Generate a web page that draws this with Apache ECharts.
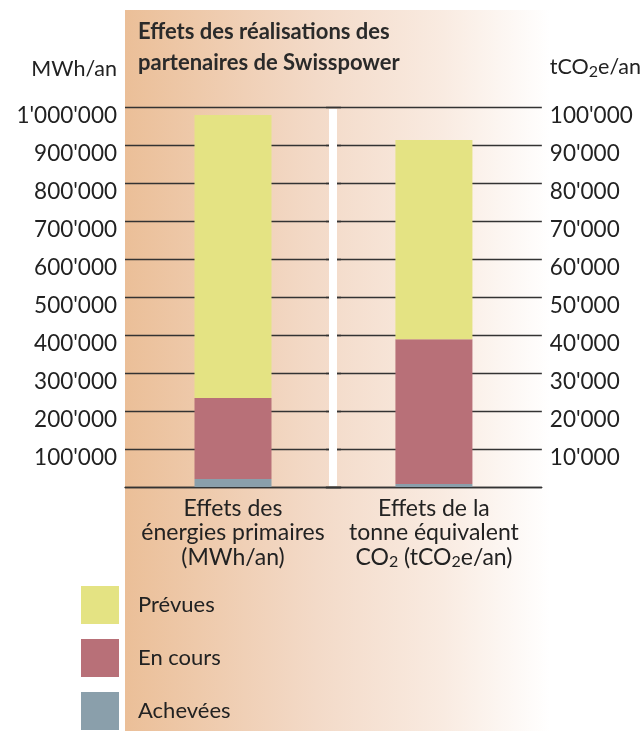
<!DOCTYPE html>
<html>
<head>
<meta charset="utf-8">
<script src="https://cdn.jsdelivr.net/npm/echarts@6/dist/echarts.min.js"></script>
<style>
  html, body { margin: 0; padding: 0; background: #fff; }
  #chart { width: 642px; height: 731px; }
</style>
</head>
<body>
<div id="chart"></div>
<script>
// categories (one per bar, each bar has its own axis)
var catLeft = ['Effets des\nénergies primaires\n(MWh/an)'];
var catRight = ['Effets de la\ntonne équivalent\nCO{sub|2} (tCO{sub|2}e/an)'];

// MWh/an (left axis)
var mwhAchevees = [21000];
var mwhEnCours = [213000];
var mwhPrevues = [745000];

// tCO2e/an (right axis)
var co2Achevees = [800];
var co2EnCours = [38100];
var co2Prevues = [52400];

var legendNames = ['Prévues', 'En cours', 'Achevées'];
var colors = { 'Prévues': '#e4e383', 'En cours': '#b87078', 'Achevées': '#8a9fab' };

var FONT = 'Lato';
var TXT = '#222';

function fmt(v) {
    if (v === 0) return '';
    return String(v).replace(/\B(?=(\d{3})+(?!\d))/g, "'");
}

var subStyle = { fontSize: 16, fontFamily: FONT, color: TXT, padding: [10, 0, 0, 0] };

var dom = document.getElementById('chart');
var myChart = echarts.init(dom);

function bar(name, data, gi, stack) {
    return {
        name: name,
        type: 'bar',
        stack: stack,
        xAxisIndex: gi,
        yAxisIndex: gi,
        barWidth: 77,
        z: 10,
        itemStyle: { color: colors[name] },
        data: data
    };
}

var yLabel = {
    margin: 8, fontSize: 22.5, color: TXT, fontFamily: FONT,
    verticalAlign: 'top', lineHeight: 18,
    formatter: fmt
};

var option = {
    animation: false,
    textStyle: { fontFamily: FONT },
    title: {
        text: 'Effets des réalisations des\npartenaires de Swisspower',
        left: 138,
        top: 16,
        padding: 0,
        textStyle: { fontFamily: FONT, fontSize: 22, fontWeight: 'bold', color: '#2a2a2a', lineHeight: 31 }
    },
    graphic: [
        {
            type: 'rect',
            z: -100,
            shape: { x: 125, y: 10, width: 425, height: 721 },
            style: {
                fill: new echarts.graphic.LinearGradient(0, 0, 1, 0, [
                    { offset: 0, color: '#ebbf98' },
                    { offset: 0.45, color: '#f3dac8' },
                    { offset: 0.75, color: '#f9ebe1' },
                    { offset: 1, color: '#ffffff' }
                ])
            }
        },
        {
            type: 'rect',
            z: 100,
            shape: { x: 329, y: 109, width: 8, height: 377 },
            style: { fill: '#ffffff' }
        }
    ],
    legend: {
        data: legendNames,
        orient: 'vertical',
        left: 81,
        top: 586,
        height: 160,
        padding: 0,
        icon: 'rect',
        itemWidth: 38,
        itemHeight: 38,
        itemGap: 15,
        textStyle: { fontFamily: FONT, fontSize: 22, color: TXT, padding: [0, 0, 0, 14] }
    },
    grid: [
        { left: 125, width: 216, top: 107, bottom: 244 },
        { left: 326, right: 97, top: 107, bottom: 244 }
    ],
    xAxis: [
        {
            type: 'category', gridIndex: 0, data: catLeft,
            axisLine: { lineStyle: { color: '#333', width: 1.3 } },
            axisTick: { show: false },
            axisLabel: { margin: 9, fontSize: 23, lineHeight: 24.5, color: TXT, fontFamily: FONT }
        },
        {
            type: 'category', gridIndex: 1, data: catRight,
            axisLine: { lineStyle: { color: '#333', width: 1.3 } },
            axisTick: { show: false },
            axisLabel: {
                margin: 9, fontSize: 23, lineHeight: 24.5, color: TXT, fontFamily: FONT,
                rich: { sub: subStyle }
            }
        }
    ],
    yAxis: [
        {
            type: 'value', gridIndex: 0, position: 'left',
            min: 0, max: 1000000, interval: 100000,
            name: 'MWh/an',
            nameGap: 27,
            nameTextStyle: { fontSize: 21.5, color: TXT, fontFamily: FONT, align: 'right', padding: [0, 8, 0, 0] },
            axisLine: { show: false },
            axisTick: { show: false },
            splitLine: { lineStyle: { color: '#333', width: 1.3 } },
            axisLabel: yLabel
        },
        {
            type: 'value', gridIndex: 1, position: 'right',
            min: 0, max: 100000, interval: 10000,
            name: 'tCO{sub|2}e/an',
            nameGap: 27,
            nameTextStyle: {
                fontSize: 21.5, color: TXT, fontFamily: FONT, align: 'left', padding: [0, 0, 0, 8],
                rich: { sub: subStyle }
            },
            axisLine: { show: false },
            axisTick: { show: false },
            splitLine: { lineStyle: { color: '#333', width: 1.3 } },
            axisLabel: yLabel
        }
    ],
    series: [
        bar('Achevées', mwhAchevees, 0, 'mwh'),
        bar('En cours', mwhEnCours, 0, 'mwh'),
        bar('Prévues', mwhPrevues, 0, 'mwh'),
        bar('Achevées', co2Achevees, 1, 'co2'),
        bar('En cours', co2EnCours, 1, 'co2'),
        bar('Prévues', co2Prevues, 1, 'co2')
    ]
};

myChart.setOption(option);
</script>
</body>
</html>
